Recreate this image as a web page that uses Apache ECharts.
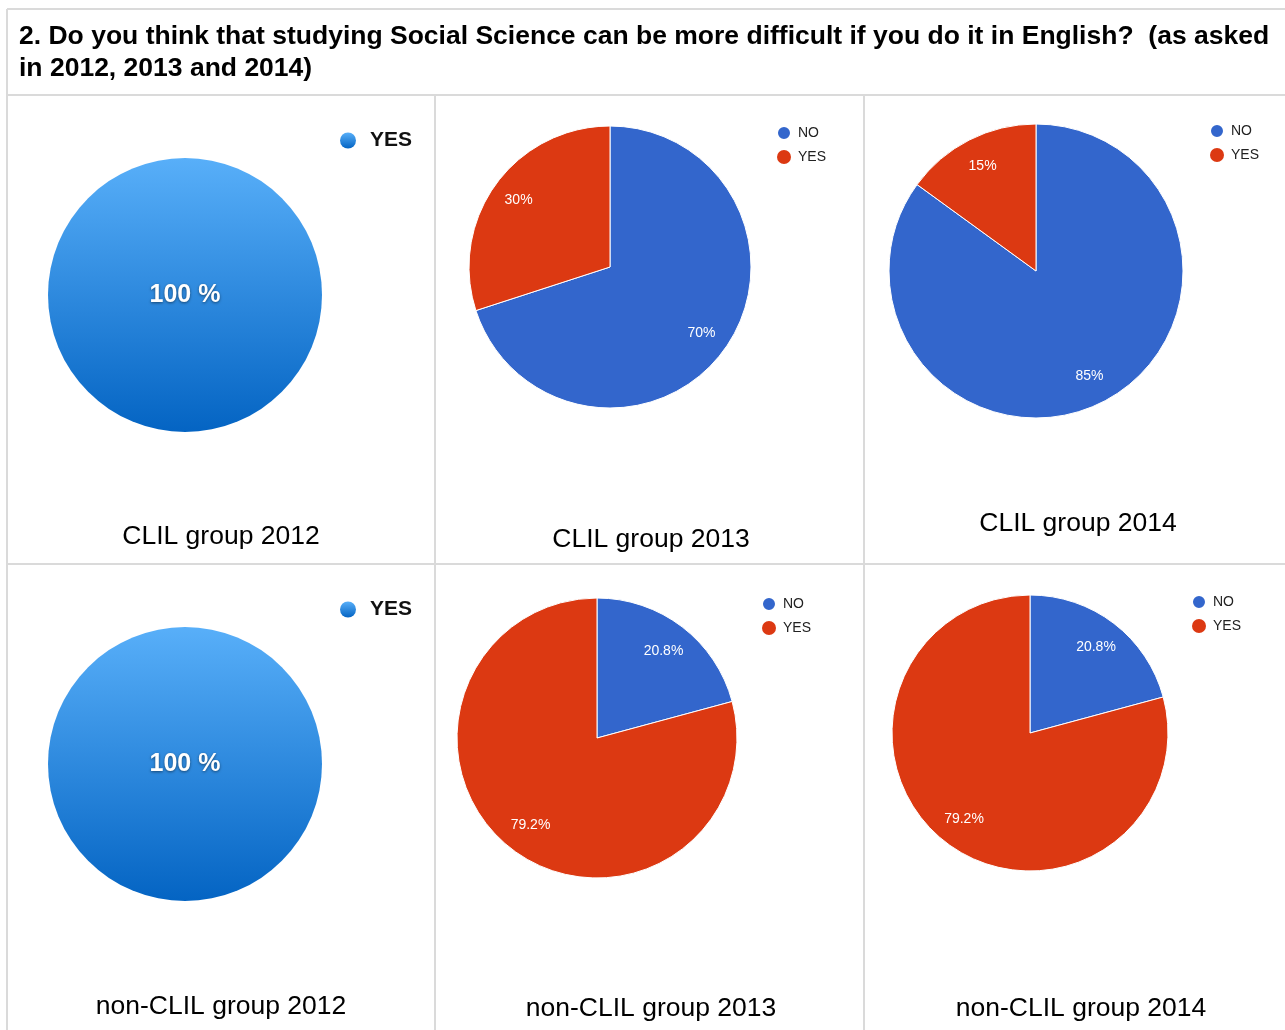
<!DOCTYPE html>
<html><head><meta charset="utf-8">
<script src="https://cdn.jsdelivr.net/npm/echarts@6/dist/echarts.min.js"></script>
<style>html,body{margin:0;padding:0;background:#fff}#c{width:1285px;height:1030px}</style>
</head><body><div id="c"></div>
<script>
// ---------- data ----------
const mainTitle = [
  '2. Do you think that studying Social Science can be more difficult if you do it in English?  (as asked',
  'in 2012, 2013 and 2014)'
];
const answers = ['NO', 'YES'];
const singleAnswer = ['YES'];
const clil2012 = [100];
const clil2013 = [70, 30];
const clil2014 = [85, 15];
const nonClil2012 = [100];
const nonClil2013 = [20.8, 79.2];
const nonClil2014 = [20.8, 79.2];
const captions = ['CLIL group 2012', 'CLIL group 2013', 'CLIL group 2014',
                  'non-CLIL group 2012', 'non-CLIL group 2013', 'non-CLIL group 2014'];

// ---------- style / layout ----------
const FONT = '"Liberation Sans", Arial, Helvetica, sans-serif';
const BLUE = '#3366CC', RED = '#DC3912';
const answerColors = {NO: BLUE, YES: RED};
const grad = () => new echarts.graphic.LinearGradient(0, 0, 0, 1, [
  {offset: 0, color: '#58AFF9'}, {offset: 1, color: '#0464C3'}]);

const panels = [
  {kind: 'single', names: singleAnswer, values: clil2012, center: [185, 295], r: 137, legend: [340, 130], cap: [221, 537], lab: 0.78},
  {kind: 'google', names: answers, values: clil2013, center: [610, 267], r: 141, legend: [776, 125], cap: [651, 540], lab: 0.56},
  {kind: 'google', names: answers, values: clil2014, center: [1036, 271], r: 147, legend: [1209, 123], cap: [1078, 524], lab: 0.56},
  {kind: 'single', names: singleAnswer, values: nonClil2012, center: [185, 764], r: 137, legend: [340, 599], cap: [221, 1007], lab: 0.78},
  {kind: 'google', names: answers, values: nonClil2013, center: [597, 738], r: 140, legend: [761, 596], cap: [651, 1009], lab: 0.52},
  {kind: 'google', names: answers, values: nonClil2014, center: [1030, 733], r: 138, legend: [1191, 594], cap: [1081, 1009], lab: 0.53}
];

const series = [];
const legends = [];
const graphics = [];

panels.forEach((p, idx) => {
  if (p.kind === 'single') {
    series.push({
      type: 'pie', center: p.center, radius: [0, p.r], startAngle: 90,
      animation: false, silent: true, emphasis: {disabled: true},
      data: p.names.map((n, i) => ({name: n, value: p.values[i], itemStyle: {color: grad()}})),
      labelLine: {show: false},
      label: {show: true, position: 'center', formatter: '{d} %', color: '#fff',
        fontFamily: FONT, fontSize: 25, fontWeight: 'bold', padding: [4, 0, 0, 0],
        textShadowColor: 'rgba(0,0,0,0.5)', textShadowBlur: 3, textShadowOffsetY: 1}
    });
    legends.push({
      orient: 'vertical', left: p.legend[0], top: p.legend[1], icon: 'circle', padding: 0,
      itemWidth: 16, itemHeight: 16, selectedMode: false,
      data: p.names.map(n => ({name: n, itemStyle: {color: grad()}})),
      textStyle: {fontFamily: FONT, fontSize: 21, fontWeight: 'bold', color: '#111', padding: [0, 0, 0, 9]}
    });
  } else {
    series.push({
      type: 'pie', center: p.center, radius: [0, p.r], startAngle: 90, clockwise: true,
      animation: false, silent: true, emphasis: {disabled: true},
      data: p.names.map((n, i) => ({name: n, value: p.values[i], itemStyle: {color: answerColors[n]}})),
      itemStyle: {borderColor: '#fff', borderWidth: 1},
      label: {show: false}, labelLine: {show: false}
    });
    // label ring: places the percentage labels part-way out along each slice
    series.push({
      type: 'pie', center: p.center, radius: [p.r * p.lab, p.r], startAngle: 90, clockwise: true,
      animation: false, silent: true, emphasis: {disabled: true}, z: 3,
      data: p.names.map((n, i) => ({name: n, value: p.values[i]})),
      itemStyle: {color: 'rgba(0,0,0,0)', borderWidth: 0},
      labelLine: {show: false},
      label: {show: true, position: 'inside', formatter: '{d}%', color: '#fff', fontFamily: FONT, fontSize: 14}
    });
    legends.push({
      orient: 'vertical', left: p.legend[0], top: p.legend[1], icon: 'circle', padding: 0,
      itemWidth: 14, itemHeight: 14, itemGap: 9, selectedMode: false,
      data: p.names.map(n => ({name: n, itemStyle: {color: answerColors[n]}})),
      textStyle: {fontFamily: FONT, fontSize: 14, color: '#222', padding: [0, 0, 0, 2]}
    });
  }
  graphics.push({
    type: 'text', x: p.cap[0], y: p.cap[1], z: 10,
    style: {text: captions[idx], font: '26.5px ' + FONT, fill: '#000', textAlign: 'center', textVerticalAlign: 'middle'}
  });
});

// table lines
const LINE = {stroke: '#dadada', lineWidth: 2};
[[7, 9, 1285, 9], [7, 9, 7, 1030], [7, 95, 1285, 95], [7, 564, 1285, 564],
 [435, 95, 435, 1030], [864, 95, 864, 1030]].forEach(l => {
  graphics.push({type: 'line', shape: {x1: l[0], y1: l[1], x2: l[2], y2: l[3]}, style: LINE, z: 1});
});
// main title
graphics.push({type: 'text', x: 19, y: 37, z: 10,
  style: {text: mainTitle[0], font: 'bold 26.5px ' + FONT, fill: '#000', textAlign: 'left', textVerticalAlign: 'middle'}});
graphics.push({type: 'text', x: 19, y: 69, z: 10,
  style: {text: mainTitle[1], font: 'bold 26.5px ' + FONT, fill: '#000', textAlign: 'left', textVerticalAlign: 'middle'}});

const chart = echarts.init(document.getElementById('c'), null, {renderer: 'canvas'});
chart.setOption({
  backgroundColor: '#fff',
  animation: false,
  legend: legends,
  series: series,
  graphic: graphics
});
</script>
</body></html>
